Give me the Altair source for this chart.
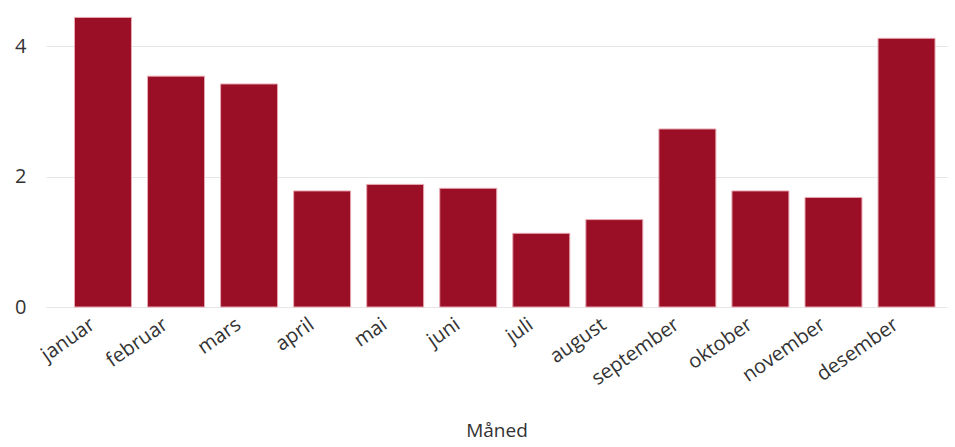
import altair as alt
import pandas as pd

months = ["januar", "februar", "mars", "april", "mai", "juni", "juli",
          "august", "september", "oktober", "november", "desember"]
values = [4.44, 3.54, 3.42, 1.78, 1.88, 1.82, 1.13, 1.34, 2.73, 1.78, 1.68, 4.12]

df = pd.DataFrame({"Måned": months, "Verdi": values})

chart = alt.Chart(df).mark_bar(
    color="#9B0F26", stroke="#e8a9b3", strokeWidth=1
).encode(
    x=alt.X("Måned:N", sort=months,
            scale=alt.Scale(paddingInner=0.22, paddingOuter=0.277, align=0.704),
            axis=alt.Axis(labelAngle=-35, labelFontSize=20, labelColor="#333",
                          labelFont="Open Sans", titleFont="Open Sans",
                          titleFontSize=19, titleFontWeight="normal",
                          titleColor="#333", domain=False, ticks=False,
                          labelOffset=-16, labelPadding=7, titlePadding=33)),
    y=alt.Y("Verdi:Q", title=None,
            scale=alt.Scale(domain=[0, 4.6], nice=False),
            axis=alt.Axis(values=[0, 2, 4], labelFontSize=20, labelColor="#333",
                          labelFont="Open Sans", domain=False, ticks=False,
                          labelPadding=20, gridColor="#e6e6e6")),
).properties(
    width=901, height=300,
    autosize=alt.AutoSizeParams(type="none"),
    padding={"left": 46, "top": 7, "right": 8, "bottom": 140},
).configure_view(stroke=None)

chart.save("out.html", embed_options={"renderer": "svg", "actions": False})
